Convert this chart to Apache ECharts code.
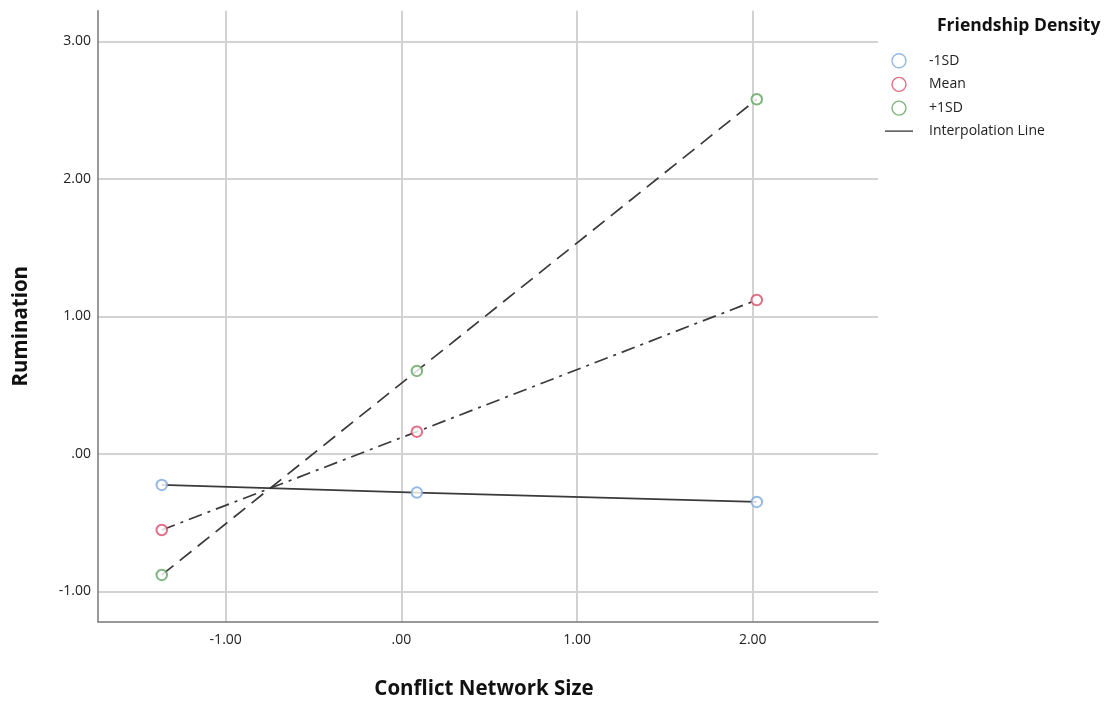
<!DOCTYPE html>
<html><head><meta charset="utf-8">
<script src="https://cdn.jsdelivr.net/npm/echarts@6/dist/echarts.min.js"></script>
<style>html,body{margin:0;padding:0;background:#fff}#c{width:1113px;height:701px}</style>
</head><body><div id="c"></div>
<script>
const xValues = [-1.364, 0.088, 2.023];
const lowSD = [-0.225, -0.281, -0.349];
const meanVals = [-0.553, 0.162, 1.12];
const highSD = [-0.88, 0.604, 2.58];
const xTicks = [-1, 0, 1, 2];
const yTicks = [-1, 0, 1, 2, 3];
const seriesNames = ['-1SD', 'Mean', '+1SD'];
const colors = ['#7ba7de', '#db4a68', '#5ea45c'];

const fmt = v => (Math.abs(v) < 1e-9 ? '.00' : v.toFixed(2));
const pts = arr => arr.map((y, i) => [xValues[i], y]);
const lineTypes = ['solid', [14, 6, 3, 6], [15, 8]];
const datasets = [lowSD, meanVals, highSD];

const series = [];
datasets.forEach((d, i) => {
  series.push({
    name: i === 0 ? 'Interpolation Line' : 'line' + i,
    type: 'line', data: pts(d), symbol: 'none', z: 2,
    lineStyle: { color: '#3a3a3a', width: 1.7, type: lineTypes[i] },
    itemStyle: { color: '#3a3a3a' }
  });
});
datasets.forEach((d, i) => {
  series.push({
    name: seriesNames[i], type: 'scatter', data: pts(d), z: 3,
    symbol: 'emptyCircle', symbolSize: 10.5,
    itemStyle: { color: colors[i], borderColor: colors[i], borderWidth: 1.3 }
  });
});

const chart = echarts.init(document.getElementById('c'), null, { renderer: 'canvas' });
chart.setOption({
  animation: false,
  backgroundColor: '#fff',
  title: { text: 'Friendship Density', left: 932, top: 12,
    textStyle: { fontFamily: 'Open Sans', fontWeight: 'bold', fontSize: 17.5, color: '#111' } },
  legend: {
    orient: 'vertical', left: 880, top: 48, itemGap: 8.3, itemWidth: 28, itemHeight: 14,
    textStyle: { fontFamily: 'Open Sans', fontSize: 14, color: '#222', padding: [0, 0, 0, 11] },
    data: [
      { name: '-1SD', icon: 'circle', itemStyle: { color: '#fff', borderColor: colors[0], borderWidth: 1.4 } },
      { name: 'Mean', icon: 'circle', itemStyle: { color: '#fff', borderColor: colors[1], borderWidth: 1.4 } },
      { name: '+1SD', icon: 'circle', itemStyle: { color: '#fff', borderColor: colors[2], borderWidth: 1.4 } },
      { name: 'Interpolation Line', icon: 'path://M0,6.3L28,6.3L28,7.7L0,7.7Z', itemStyle: { color: '#444', borderWidth: 0 } }
    ]
  },
  grid: { left: 98, right: 235, top: 10.7, bottom: 79.3, containLabel: false, outerBoundsMode: 'none' },
  xAxis: {
    type: 'value', min: -1.727, max: 2.713,
    name: 'Conflict Network Size', nameLocation: 'middle', nameGap: 57,
    nameTextStyle: { fontFamily: 'Open Sans', fontWeight: 'bold', fontSize: 20.5, color: '#111', padding: [0, 8, 0, 0] },
    axisLine: { show: true, onZero: false, lineStyle: { color: '#777', width: 1.5 } },
    axisTick: { show: false, customValues: xTicks },
    axisLabel: { customValues: xTicks, formatter: fmt, fontFamily: 'Open Sans', fontSize: 14, color: '#222', margin: 11 },
    splitLine: { show: true, lineStyle: { color: '#d2d2d2', width: 2 } }
  },
  yAxis: {
    type: 'value', min: -1.22, max: 3.224,
    name: 'Rumination', nameLocation: 'middle', nameGap: 66, nameRotate: 90,
    nameTextStyle: { fontFamily: 'Open Sans', fontWeight: 'bold', fontSize: 20.5, color: '#111', padding: [0, 20, 0, 0] },
    axisLine: { show: true, onZero: false, lineStyle: { color: '#777', width: 1.5 } },
    axisTick: { show: false, customValues: yTicks },
    axisLabel: { customValues: yTicks, formatter: fmt, fontFamily: 'Open Sans', fontSize: 14, color: '#222', margin: 7 },
    splitLine: { show: true, lineStyle: { color: '#d2d2d2', width: 2 } }
  },
  series: series
});
</script></body></html>
